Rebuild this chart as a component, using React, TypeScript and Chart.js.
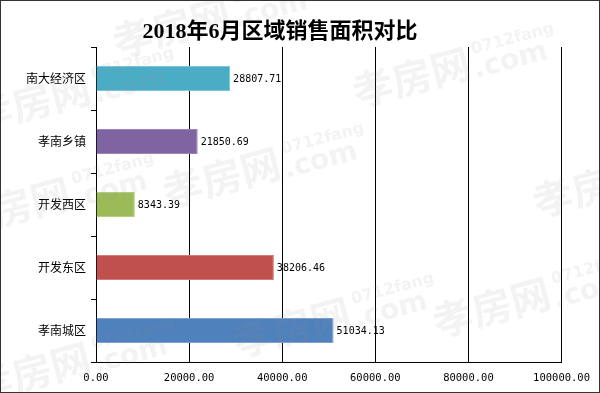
import React, { useEffect, useRef } from "react";
import { Chart, registerables } from "chart.js";

Chart.register(...registerables);

const chartTitle = "2018年6月区域销售面积对比";
const categories = ["南大经济区", "孝南乡镇", "开发西区", "开发东区", "孝南城区"];
const values = [28807.71, 21850.69, 8343.39, 38206.46, 51034.13];
const barColors = ["#4BACC6", "#8064A2", "#9BBB59", "#C0504D", "#4F81BD"];
const barBorders = ["#7CC4D8", "#9C86B8", "#B4CE80", "#D17D7A", "#7DA2D0"];
const xMin = 0;
const xMax = 100000;
const xStep = 20000;
const watermarkMain = "孝房网";
const watermarkSub = "0712fang";
const watermarkCom = ".com";

const MONO = "'DejaVu Sans Mono', 'Liberation Mono', monospace";
const CJK = "'Noto Sans CJK SC', 'Noto Sans', sans-serif";

const watermarkPlugin = {
  id: "watermark",
  afterDatasetsDraw(chart: any) {
    const ctx = chart.ctx;
    const spots = [
      [40, 95], [420, 70], [230, 170], [20, 200], [500, 300], [300, 320], [40, 365], [180, 20], [600, 180]
    ];
    ctx.save();
    ctx.fillStyle = "rgba(150,150,150,0.11)";
    for (const [x, y] of spots) {
      ctx.save();
      ctx.translate(x, y);
      ctx.rotate(-0.26);
      ctx.font = "bold 40px " + CJK;
      ctx.textBaseline = "alphabetic";
      ctx.fillText(watermarkMain, -70, 20);
      ctx.font = "bold 16px 'DejaVu Sans', sans-serif";
      ctx.fillText(watermarkSub, 55, -2);
      ctx.font = "bold 28px 'DejaVu Sans', sans-serif";
      ctx.fillText(watermarkCom, 52, 22);
      ctx.restore();
    }
    ctx.restore();
  },
};

const labelsPlugin = {
  id: "barLabels",
  afterDatasetsDraw(chart: any) {
    const ctx = chart.ctx;
    const meta = chart.getDatasetMeta(0);
    ctx.save();
    ctx.font = "10px " + MONO;
    ctx.fillStyle = "#000";
    ctx.textBaseline = "middle";
    ctx.textAlign = "left";
    meta.data.forEach((bar: any, i: number) => {
      ctx.fillText(values[i].toFixed(2), bar.x + 3, bar.y + 1);
    });
    ctx.restore();
  },
};

const framePlugin = {
  id: "frame",
  afterDraw(chart: any) {
    const ctx = chart.ctx;
    ctx.save();
    ctx.font = "bold 22px 'Liberation Serif', 'Noto Sans CJK SC', serif";
    ctx.fillStyle = "#000";
    ctx.textAlign = "center";
    ctx.textBaseline = "alphabetic";
    ctx.fillText(chartTitle, 280, 38);
    ctx.strokeStyle = "#333";
    ctx.lineWidth = 1;
    ctx.strokeRect(0.5, 0.5, 599, 392);
    ctx.restore();
  },
};

export default function App() {
  const ref = useRef<HTMLCanvasElement>(null);
  useEffect(() => {
    if (!ref.current) return;
    const chart = new Chart(ref.current, {
      type: "bar",
      data: {
        labels: categories,
        datasets: [
          {
            data: values,
            backgroundColor: barColors,
            borderColor: barBorders,
            borderWidth: 1,
            categoryPercentage: 0.8,
            barPercentage: 0.5,
          },
        ],
      },
      options: {
        indexAxis: "y",
        responsive: false,
        animation: false,
        layout: { padding: { top: 47, left: 0, right: 36, bottom: 0 } },
        plugins: {
          legend: { display: false },
          title: { display: false },
          tooltip: { enabled: false },
        },
        scales: {
          x: {
            min: xMin,
            max: xMax,
            ticks: {
              stepSize: xStep,
              color: "#000",
              font: { family: MONO, size: 10.5 },
              padding: 10,
              maxRotation: 0,
              callback: (v: any) => Number(v).toFixed(2),
            },
            grid: { color: "#000", lineWidth: 1, drawTicks: false },
            border: { color: "#000" },
            afterFit: (s: any) => {
              s.height = 31;
            },
          },
          y: {
            ticks: {
              color: "#000",
              font: { family: CJK, size: 12 },
              padding: 5,
            },
            grid: { offset: true, drawOnChartArea: false, color: "#000", tickLength: 5 },
            border: { color: "#000" },
            afterFit: (s: any) => {
              s.width = 96;
            },
          },
        },
      },
      plugins: [watermarkPlugin, labelsPlugin, framePlugin],
    } as any);
    return () => chart.destroy();
  }, []);
  return (
    <div style={{ position: "absolute", left: 0, top: 0, width: 600, height: 393, background: "#fff" }}>
      <canvas ref={ref} width={600} height={393} />
    </div>
  );
}
